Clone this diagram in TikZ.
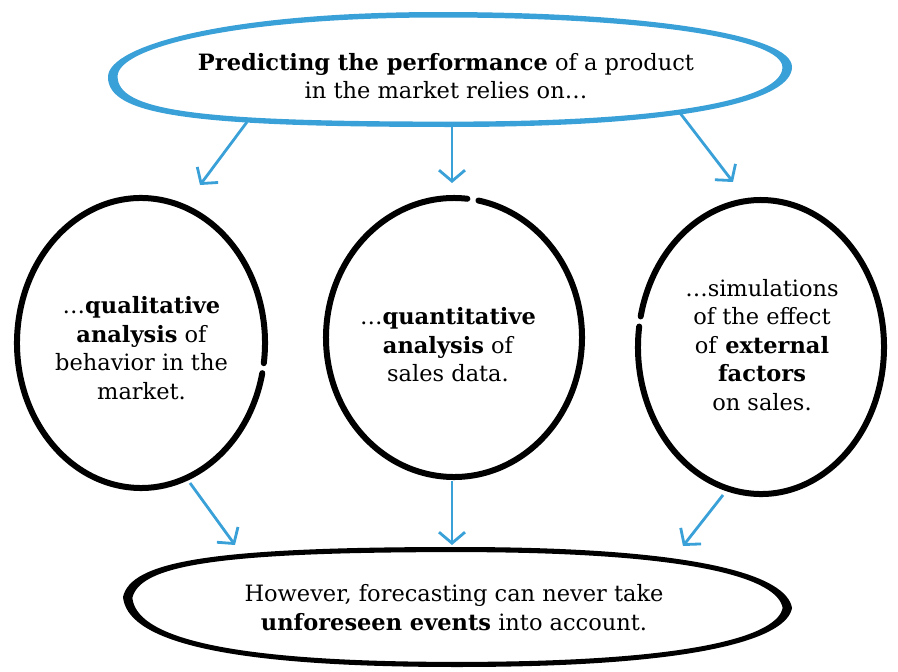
\documentclass[tikz,border=0pt]{standalone}
\usepackage{fontspec}
\setmainfont{DejaVu Serif}
\usetikzlibrary{shapes.geometric,arrows.meta,calc}
\definecolor{skyblue}{HTML}{3AA0D8}
\tikzset{
  topshape/.style 2 args={insert path={
    ({-342*#1},{-7*#2}) .. controls ({-342*#1},{25*#2}) and ({-220*#1},{58*#2}) .. ({-10*#1},{58*#2})
    .. controls ({200*#1},{58*#2}) and ({342*#1},{35*#2}) .. ({342*#1},{3*#2})
    .. controls ({342*#1},{-30*#2}) and ({240*#1},{-57*#2}) .. (0,{-57*#2})
    .. controls ({-260*#1},{-57*#2}) and ({-342*#1},{-45*#2}) .. cycle}},
  botshape/.style 2 args={insert path={
    ({-334*#1},{10*#2}) .. controls ({-326*#1},{45*#2}) and ({-250*#1},{60*#2}) .. (0,{60*#2})
    .. controls ({250*#1},{60*#2}) and ({330*#1},{30*#2}) .. ({335*#1},{-1*#2})
    .. controls ({330*#1},{-30*#2}) and ({250*#1},{-60*#2}) .. (0,{-60*#2})
    .. controls ({-250*#1},{-60*#2}) and ({-330*#1},{-30*#2}) .. cycle}},
}
\begin{document}
\begin{tikzpicture}[x=1pt,y=1pt,
  ell/.style={ellipse, inner sep=0pt},
  txt/.style={inner sep=0pt, align=center, font=\fontsize{22.5pt}{28.5pt}\selectfont},
  ring/.style={line width=6pt, line cap=round, black},
  arr/.style={skyblue, line width=2.8pt, -{Straight Barb[length=11pt,width=26pt]}},
]
\useasboundingbox (0,-672) rectangle (898,0);
\fill[white] (0,-672) rectangle (898,0);

% nodes
\node[ell, minimum width=684pt, minimum height=114pt] (top) at (450,-70) {};
\node[ell, minimum width=254pt, minimum height=296pt] (c1) at (141,-343) {};
\node[ell, minimum width=262pt, minimum height=285pt] (c2) at (454,-337.5) {};
\node[ell, minimum width=252pt, minimum height=300pt] (c3) at (761,-347) {};
\node[ell, minimum width=670pt, minimum height=120pt] (bot) at (457,-607) {};

% arrows (under the outlines)
\draw[arr] ($(top.center)+(-203,-52)$) -- ($(c1.center)+(59,158)$);
\draw[arr] ($(top.center)+(2,-57)$) -- ($(c2.center)+(-2,154.5)$);
\draw[arr] ($(top.center)+(230,-43)$) -- ($(c3.center)+(-28,165)$);
\draw[arr] ($(c1.center)+(49,-140)$) -- ($(bot.center)+(-222,62)$);
\draw[arr] ($(c2.center)+(-2,-143)$) -- ($(bot.center)+(-5,62)$);
\draw[arr] ($(c3.center)+(-38,-148)$) -- ($(bot.center)+(226,61)$);

% outlines
\fill[skyblue, even odd rule, shift={(top.center)}] [topshape={1}{1}] [topshape={0.972}{0.905}];
\fill[black, even odd rule, shift={(bot.center)}] [botshape={1}{1}] [botshape={0.972}{0.915}];
\draw[ring] ($(c1.center)+(-8:124pt and 145pt)$) arc[start angle=-8, end angle=348, x radius=124pt, y radius=145pt];
\draw[ring] ($(c2.center)+(84:128pt and 139.5pt)$) arc[start angle=84, end angle=439, x radius=128pt, y radius=139.5pt];
\draw[ring] ($(c3.center)+(172:123pt and 147pt)$) arc[start angle=172, end angle=528, x radius=123pt, y radius=147pt];

% texts
\node[txt] (toptext) at (446,-76) {\textbf{Predicting the performance} of a product\\in the market relies on\ldots};
\node[txt] (t1) at (141.5,-348) {\ldots\textbf{qualitative}\\\textbf{analysis} of\\behavior in the\\market.};
\node[txt] (t2) at (448,-345) {\ldots\textbf{quantitative}\\\textbf{analysis} of\\sales data.};
\node[txt] (t3) at (762,-345) {\ldots simulations\\of the effect\\of \textbf{external}\\\textbf{factors}\\on sales.};
\node[txt] (bottext) at (454,-607.5) {However, forecasting can never take\\\textbf{unforeseen events} into account.};
\end{tikzpicture}
\end{document}
